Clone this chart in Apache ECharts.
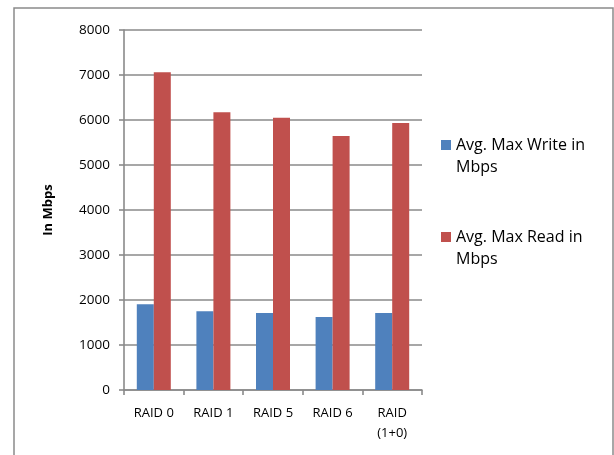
<!DOCTYPE html>
<html>
<head>
<meta charset="utf-8">
<script src="https://cdn.jsdelivr.net/npm/echarts@6/dist/echarts.min.js"></script>
<style>
  html, body { margin: 0; padding: 0; background: #fff; }
  #chart { width: 614px; height: 455px; }
</style>
</head>
<body>
<div id="chart"></div>
<script>
// RAID level throughput, averaged maxima in Mbps
const categories = ['RAID 0', 'RAID 1', 'RAID 5', 'RAID 6', 'RAID (1+0)'];
const writeValues = [1905, 1750, 1710, 1620, 1710];
const readValues = [7060, 6170, 6050, 5645, 5935];
const seriesNames = ['Avg. Max Write in Mbps', 'Avg. Max Read in Mbps'];
const yTicks = { min: 0, max: 8000, interval: 1000 };

const FONT = 'Open Sans';
const GRID_GRAY = '#8a8a8a';
const LINE_W = 1.6;

// Legend swatch sits in the top of a taller box so it lines up with the first text line
const SWATCH = 'path://M0,0L10,0L10,10L0,10Z M0,32L0.001,32Z';

const chart = echarts.init(document.getElementById('chart'), null, { renderer: 'canvas' });

chart.setOption({
  animation: false,
  backgroundColor: '#ffffff',
  textStyle: { fontFamily: FONT, color: '#000' },
  graphic: [{
    type: 'rect',
    silent: true,
    shape: { x: 14, y: 8, width: 599, height: 470 },
    style: { fill: 'none', stroke: '#8a8a8a', lineWidth: 1.5 }
  }],
  grid: { left: 124, right: 192, top: 30, bottom: 65 },
  legend: {
    orient: 'vertical',
    left: 441,
    top: 134,
    padding: 0,
    itemWidth: 10,
    itemHeight: 32,
    itemGap: 48,
    icon: SWATCH,
    data: seriesNames,
    textStyle: {
      fontFamily: FONT,
      fontSize: 16,
      color: '#000',
      width: 150,
      overflow: 'break',
      lineHeight: 22
    }
  },
  xAxis: {
    type: 'category',
    data: categories,
    axisLine: { lineStyle: { color: GRID_GRAY, width: LINE_W } },
    axisTick: { show: true, length: 5, lineStyle: { color: GRID_GRAY, width: LINE_W } },
    axisLabel: {
      fontFamily: FONT,
      fontSize: 13,
      color: '#000',
      margin: 13,
      lineHeight: 20,
      formatter: v => v.replace(' (', '\n(')
    }
  },
  yAxis: {
    type: 'value',
    min: yTicks.min,
    max: yTicks.max,
    interval: yTicks.interval,
    name: 'In Mbps',
    nameLocation: 'middle',
    nameRotate: 90,
    nameGap: 69,
    nameTextStyle: { fontFamily: FONT, fontSize: 13, fontWeight: 'bold', color: '#000' },
    axisLine: { show: true, lineStyle: { color: GRID_GRAY, width: LINE_W } },
    axisTick: { show: true, length: 5, lineStyle: { color: GRID_GRAY, width: LINE_W } },
    axisLabel: {
      fontFamily: FONT,
      fontSize: 13.5,
      color: '#000',
      margin: 14,
      formatter: v => String(v)
    },
    splitLine: { lineStyle: { color: GRID_GRAY, width: LINE_W } }
  },
  series: [
    {
      name: seriesNames[0],
      type: 'bar',
      data: writeValues,
      barWidth: 17,
      barGap: '0%',
      itemStyle: { color: '#4F81BD' }
    },
    {
      name: seriesNames[1],
      type: 'bar',
      data: readValues,
      barWidth: 17,
      barGap: '0%',
      itemStyle: { color: '#C0504D' }
    }
  ]
});
</script>
</body>
</html>
